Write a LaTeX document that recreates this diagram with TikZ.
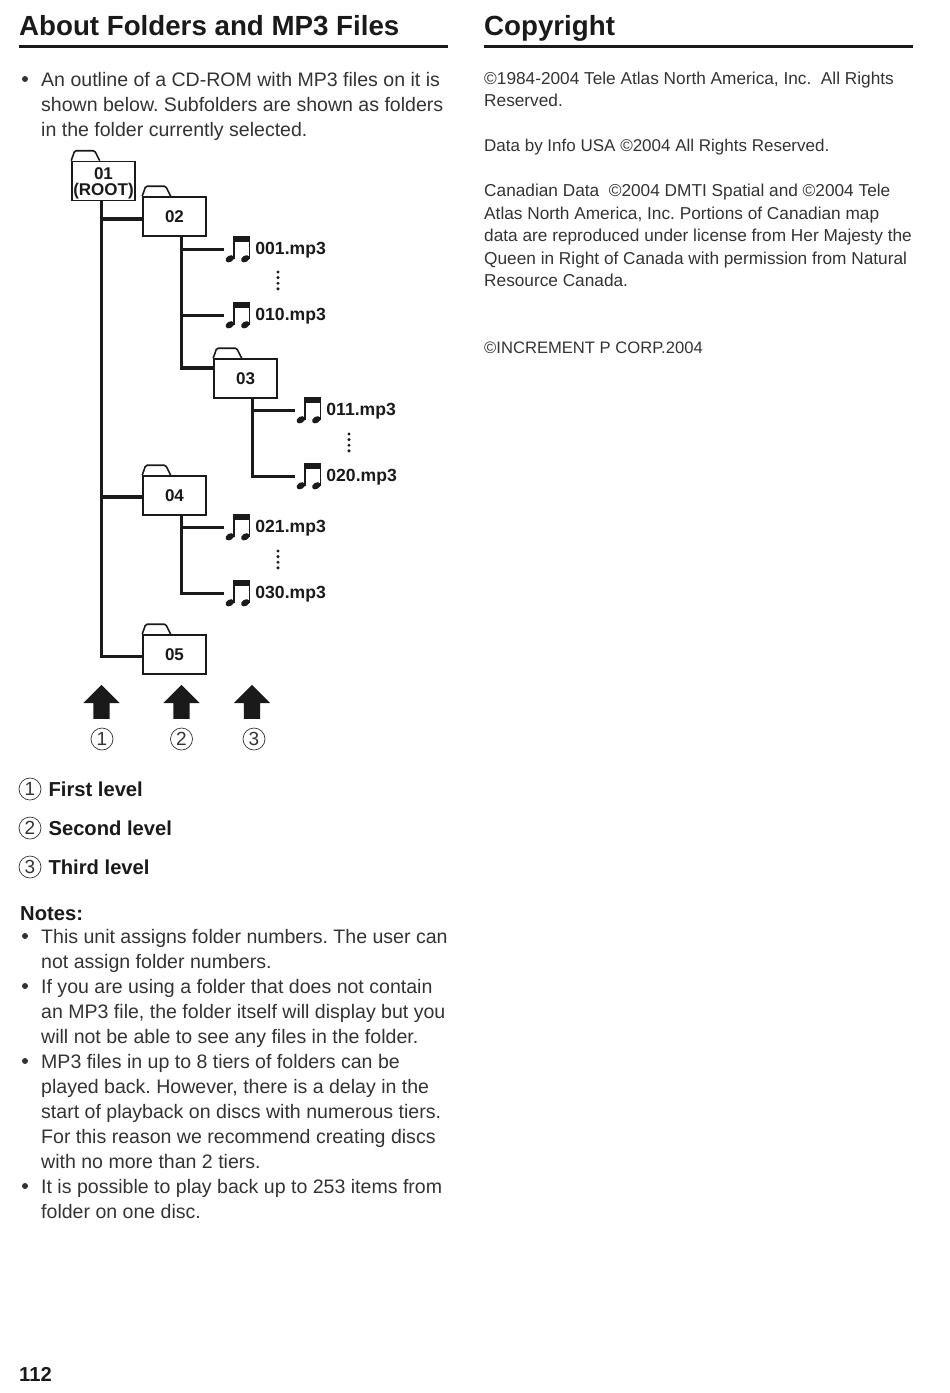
\documentclass[tikz,border=0pt]{standalone}
\usepackage{fontspec}
\setmainfont{Liberation Sans}
\usetikzlibrary{positioning,calc,shapes.arrows}
\definecolor{flBlack}{HTML}{1A1A1A}
\definecolor{flText}{HTML}{333333}
\tikzset{
  fl-title/.style={anchor=base west, inner sep=0pt, text=flBlack,
    font=\bfseries\fontsize{27.7}{30}\selectfont},
  fl-rule/.style={line width=2.4pt, draw=flBlack},
  fl-body/.style={anchor=north west, inner sep=0pt, align=left, text=flText,
    font=\frenchspacing\fontsize{19.55}{25}\selectfont},
  fl-small/.style={fl-body, font=\frenchspacing\fontsize{17.25}{22.5}\selectfont},
  fl-bullet/.style={circle, fill=flText, inner sep=0pt, minimum size=6pt},
  fl-bold/.style={inner sep=0pt, text=flBlack, font=\bfseries\fontsize{20.2}{25}\selectfont},
  fl-folder/.style={draw=flBlack, line width=1.6pt, fill=white, inner sep=0pt,
    minimum width=63pt, minimum height=39pt, align=center, text=flBlack,
    font=\bfseries\fontsize{17}{15}\selectfont},
  fl-tab/.style={line width=1.6pt, draw=flBlack, rounded corners=1.5pt},
  fl-tree/.style={line width=3.2pt, draw=flBlack},
  fl-mp3/.style={inner sep=0pt, minimum width=28pt, minimum height=27pt},
  fl-name/.style={inner sep=0pt, text=flBlack, yshift=-0.5pt,
    font=\bfseries\fontsize{17.6}{20}\selectfont},
  fl-up/.style={single arrow, fill=flBlack, inner sep=0pt, shape border rotate=90,
    text width=16pt, minimum height=34pt, minimum width=36pt,
    single arrow head extend=10pt, single arrow tip angle=90, anchor=center},
  fl-num/.style={circle, draw=flText, line width=0.7pt, inner sep=0pt,
    minimum size=22pt, text=flText, font=\fontsize{19}{20}\selectfont}
}
\begin{document}
\begin{tikzpicture}[x=1pt, y=-1pt, node distance=3pt]
\useasboundingbox (0,0) rectangle (950,1393);

% Headings
\node[fl-title] (head1) at (19,35) {About Folders and MP3 Files};
\node[fl-title] (head2) at (484,35) {Copyright};
\draw[fl-rule] (19,46.5) -- (448,46.5);
\draw[fl-rule] (484,46.5) -- (913,46.5);

% Intro
\node[fl-body] (intro) at (41,72) {An outline of a CD-ROM with MP3 files on it is\\
  shown below. Subfolders are shown as folders\\ in the folder currently selected.};
\node[fl-bullet] (b0) at ([shift={(-16,7)}]intro.north west) {};

% Folders
\node[fl-folder] (f01) at (103.5,181) {\rule{0pt}{16pt}01\\[1pt](ROOT)};
\node[fl-folder] (f02) at (174.5,216.5) {02};
\node[fl-folder] (f03) at (245.5,378.5) {03};
\node[fl-folder] (f04) at (174.5,495.5) {04};
\node[fl-folder] (f05) at (174.5,654.5) {05};
\foreach \f in {f01,f02,f03,f04,f05}
  \draw[fl-tab] (\f.north west) -- ++(3.5,-10) -- ++(20,0) -- ++(5,10);

% Files
\node[fl-mp3] (n001) at (238,249.5) {};
\node[fl-mp3] (n010) at (238,315.5) {};
\node[fl-mp3] (n011) at (309,410.5) {};
\node[fl-mp3] (n020) at (309,476.5) {};
\node[fl-mp3] (n021) at (238,527.5) {};
\node[fl-mp3] (n030) at (238,593.5) {};
\foreach \n in {n001,n010,n011,n020,n021,n030} {
  \begin{scope}[shift={(\n.north west)}]
    \fill[flBlack] (9,0) rectangle (26.5,6);
    \fill[flBlack] (9,0) rectangle (10.8,23);
    \fill[flBlack] (24.7,0) rectangle (26.5,23);
    \fill[flBlack] (6,23) ellipse [x radius=4.6, y radius=3.2, rotate=30];
    \fill[flBlack] (21.5,23) ellipse [x radius=4.6, y radius=3.2, rotate=30];
  \end{scope}
}
\node[fl-name, right=of n001] (t001) {001.mp3};
\node[fl-name, right=of n010] (t010) {010.mp3};
\node[fl-name, right=of n011] (t011) {011.mp3};
\node[fl-name, right=of n020] (t020) {020.mp3};
\node[fl-name, right=of n021] (t021) {021.mp3};
\node[fl-name, right=of n030] (t030) {030.mp3};
\foreach \x/\y in {278/272,349/434,278/551}
  \foreach \d in {0,5.6,11.2,16.8}
    \fill[flBlack] (\x,\y+\d) circle (1.7);

% Relations
\coordinate (trunk) at ([xshift=-2pt]f01.south);
\draw[fl-tree] (trunk) |- ([yshift=-2pt]f05.west);
\draw[fl-tree] ([yshift=-2.5pt]f02.west) -| (trunk);
\draw[fl-tree] ([yshift=-1.5pt]f04.west) -| (trunk);
\draw[fl-tree] ([xshift=7pt]f02.south) |- ([yshift=10.5pt]f03.west);
\draw[fl-tree] ([xshift=7pt]f02.south) |- (n001);
\draw[fl-tree] ([xshift=7pt]f02.south) |- (n010);
\draw[fl-tree] ([xshift=7pt]f03.south) |- (n011);
\draw[fl-tree] ([xshift=7pt]f03.south) |- (n020);
\draw[fl-tree] ([xshift=7pt]f04.south) |- (n021);
\draw[fl-tree] ([xshift=7pt]f04.south) |- (n030);

% Levels
\node[fl-up] (up1) at (101.5,706) {};
\node[fl-up] (up2) at (181.5,706) {};
\node[fl-up] (up3) at (252,706) {};
\node[fl-num] (c1) at (102,739) {1};
\node[fl-num] (c2) at (181.5,739) {2};
\node[fl-num] (c3) at (254,739) {3};
\node[fl-num] (k1) at (30,789) {1};
\node[fl-num] (k2) at (30,828) {2};
\node[fl-num] (k3) at (30,867) {3};
\node[fl-bold, right=7pt of k1] (l1) {First level};
\node[fl-bold, right=7pt of k2] (l2) {Second level};
\node[fl-bold, right=7pt of k3] (l3) {Third level};

% Notes
\node[fl-bold, anchor=north west] (notes) at (20,906) {Notes:};
\node[fl-body] (i1) at (41,929) {This unit assigns folder numbers. The user can\\ not assign folder numbers.};
\node[fl-body] (i2) at (41,979) {If you are using a folder that does not contain\\
  an MP3 file, the folder itself will display but you\\ will not be able to see any files in the folder.};
\node[fl-body] (i3) at (41,1054) {MP3 files in up to 8 tiers of folders can be\\
  played back. However, there is a delay in the\\ start of playback on discs with numerous tiers.\\
  For this reason we recommend creating discs\\ with no more than 2 tiers.};
\node[fl-body] (i4) at (41,1179) {It is possible to play back up to 253 items from\\ folder on one disc.};
\foreach \i/\b in {i1/b1,i2/b2,i3/b3,i4/b4}
  \node[fl-bullet] (\b) at ([shift={(-16,7)}]\i.north west) {};

% Copyright
\node[fl-small] (c84) at (484,71.5) {©1984-2004 Tele Atlas North America, Inc.\ \ All Rights\\ Reserved.};
\node[fl-small, font=\frenchspacing\fontsize{17}{22.5}\selectfont] (cusa) at (484,139) {Data by Info USA ©2004 All Rights Reserved.};
\node[fl-small] (ccan) at (484,184) {Canadian Data\ \ ©2004 DMTI Spatial and ©2004 Tele\\
  Atlas North America, Inc. Portions of Canadian map\\ data are reproduced under license from Her Majesty the\\
  Queen in Right of Canada with permission from Natural\\ Resource Canada.};
\node[fl-small, font=\frenchspacing\fontsize{16.6}{22.5}\selectfont] (cinc) at (484,342) {©INCREMENT P CORP.2004};

\node[fl-bold, anchor=base west] (page) at (19,1381) {112};
\end{tikzpicture}
\end{document}
